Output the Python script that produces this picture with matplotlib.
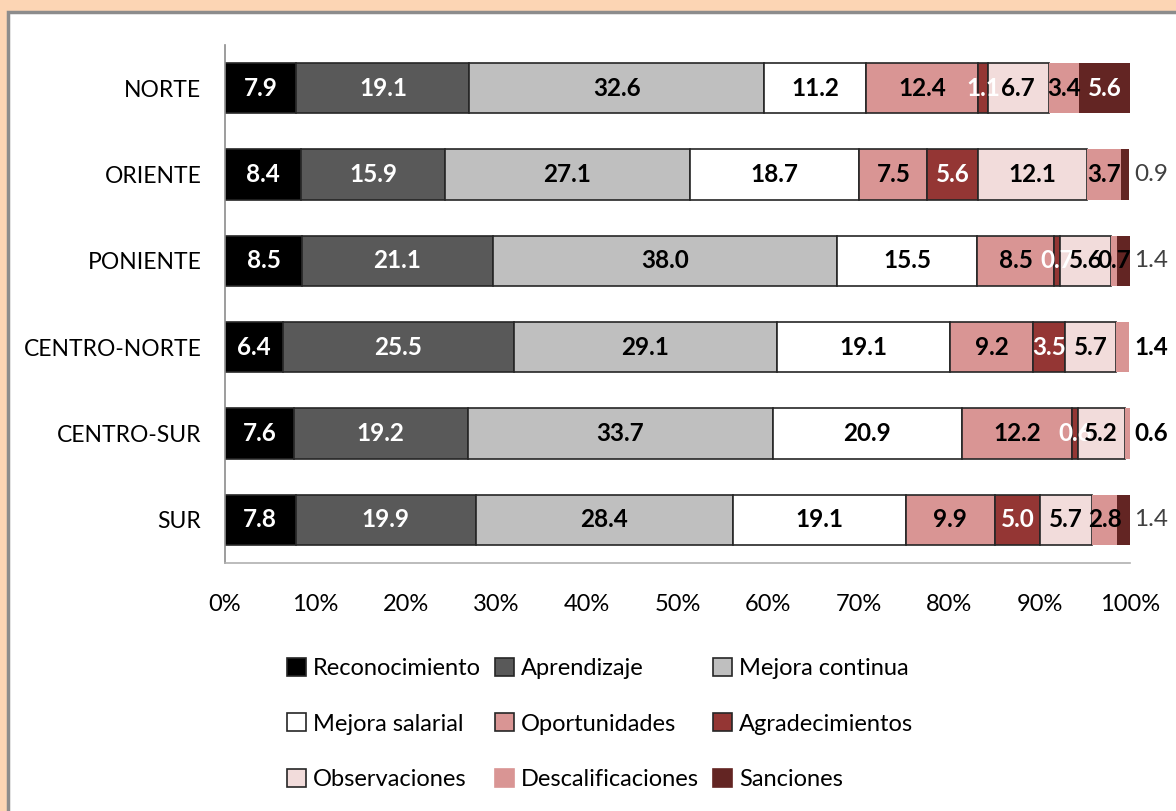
import matplotlib.pyplot as plt
import numpy as np
from matplotlib.patches import Rectangle, Patch

plt.rcParams['font.family'] = ['Lato', 'DejaVu Sans']

regions = ['NORTE', 'ORIENTE', 'PONIENTE', 'CENTRO-NORTE', 'CENTRO-SUR', 'SUR']
series = ['Reconocimiento', 'Aprendizaje', 'Mejora continua',
          'Mejora salarial', 'Oportunidades', 'Agradecimientos',
          'Observaciones', 'Descalificaciones', 'Sanciones']

# % per region, one list per series (order of regions above)
reconocimiento = [7.9, 8.4, 8.5, 6.4, 7.6, 7.8]
aprendizaje = [19.1, 15.9, 21.1, 25.5, 19.2, 19.9]
mejora_continua = [32.6, 27.1, 38.0, 29.1, 33.7, 28.4]
mejora_salarial = [11.2, 18.7, 15.5, 19.1, 20.9, 19.1]
oportunidades = [12.4, 7.5, 8.5, 9.2, 12.2, 9.9]
agradecimientos = [1.1, 5.6, 0.7, 3.5, 0.6, 5.0]
observaciones = [6.7, 12.1, 5.6, 5.7, 5.2, 5.7]
descalificaciones = [3.4, 3.7, 0.7, 1.4, 0.6, 2.8]
sanciones = [5.6, 0.9, 1.4, 0.0, 0.0, 1.4]

values = [reconocimiento, aprendizaje, mejora_continua, mejora_salarial,
          oportunidades, agradecimientos, observaciones, descalificaciones, sanciones]

colors = ['#000000', '#595959', '#bfbfbf', '#ffffff', '#d99594',
          '#943634', '#f2dcdb', '#d99594', '#632523']
edges = ['#262626', '#262626', '#262626', '#262626', '#262626',
         '#262626', '#262626', 'none', 'none']
txt_colors = ['white', 'white', 'black', 'black', 'black',
              'white', 'black', 'black', 'white']

# labels that sit outside the bar on the right (row, series) -> bold?
outside = {(1, 8): False, (2, 8): False, (5, 8): False, (3, 7): True, (4, 7): True}

fig = plt.figure(figsize=(11.76, 8.11), dpi=100)
fig.patch.set_facecolor('#fcd5b4')
fig.patches.append(Rectangle((8 / 1176, -0.01), 1.0, 1 - 12 / 811 + 0.01,
                             transform=fig.transFigure, facecolor='white',
                             edgecolor='#8c8c8c', linewidth=2.5, zorder=-10))

ax = fig.add_axes([225 / 1176, 1 - 563 / 811, 905 / 1176, (563 - 45) / 811])
ax.set_facecolor('none')

y = np.arange(len(regions))
left = np.zeros(len(regions))
for i, (name, vals) in enumerate(zip(series, values)):
    vals = np.array(vals)
    ax.barh(y, vals, left=left, height=0.58, color=colors[i],
            edgecolor=edges[i], linewidth=1.2, label=name, zorder=2)
    for r in range(len(regions)):
        if vals[r] <= 0:
            continue
        if (r, i) in outside:
            bold = outside[(r, i)]
            ax.text(100.5, y[r], f'{vals[r]:.1f}', ha='left', va='center',
                    fontsize=17.5, fontweight='bold' if bold else 'normal',
                    color='black' if bold else '#404040', zorder=5, clip_on=False)
        else:
            ax.text(left[r] + vals[r] / 2, y[r], f'{vals[r]:.1f}', ha='center',
                    va='center', fontsize=17.5, fontweight='bold',
                    color=txt_colors[i], zorder=5)
    left += vals

ax.set_xlim(0, 100)
ax.set_ylim(len(regions) - 0.5, -0.5)
ax.set_yticks(y)
ax.set_yticklabels(regions, fontsize=16.5)
ax.set_xticks(np.arange(0, 101, 10))
ax.set_xticklabels([f'{t}%' for t in range(0, 101, 10)], fontsize=17)
ax.tick_params(axis='y', length=0, pad=17)
ax.tick_params(axis='x', length=0, pad=22)
for s in ['top', 'right']:
    ax.spines[s].set_visible(False)
ax.spines['left'].set_color('#8c8c8c')
ax.spines['bottom'].set_color('#b0b0b0')
ax.spines['left'].set_linewidth(1.2)
ax.spines['bottom'].set_linewidth(1.2)

handles = [Patch(facecolor=colors[i], edgecolor=edges[i] if edges[i] != 'none' else colors[i],
                 linewidth=1.2, label=series[i]) for i in range(len(series))]
order = [0, 3, 6, 1, 4, 7, 2, 5, 8]
fig.legend([handles[k] for k in order], [series[k] for k in order],
           loc='center', bbox_to_anchor=(600 / 1176, 1 - 724 / 811), ncol=3,
           frameon=False, fontsize=17, handlelength=0.8, handleheight=0.8,
           handletextpad=0.3, columnspacing=0.6, labelspacing=1.45)

fig.savefig('out.png', dpi=100, facecolor=fig.get_facecolor())
